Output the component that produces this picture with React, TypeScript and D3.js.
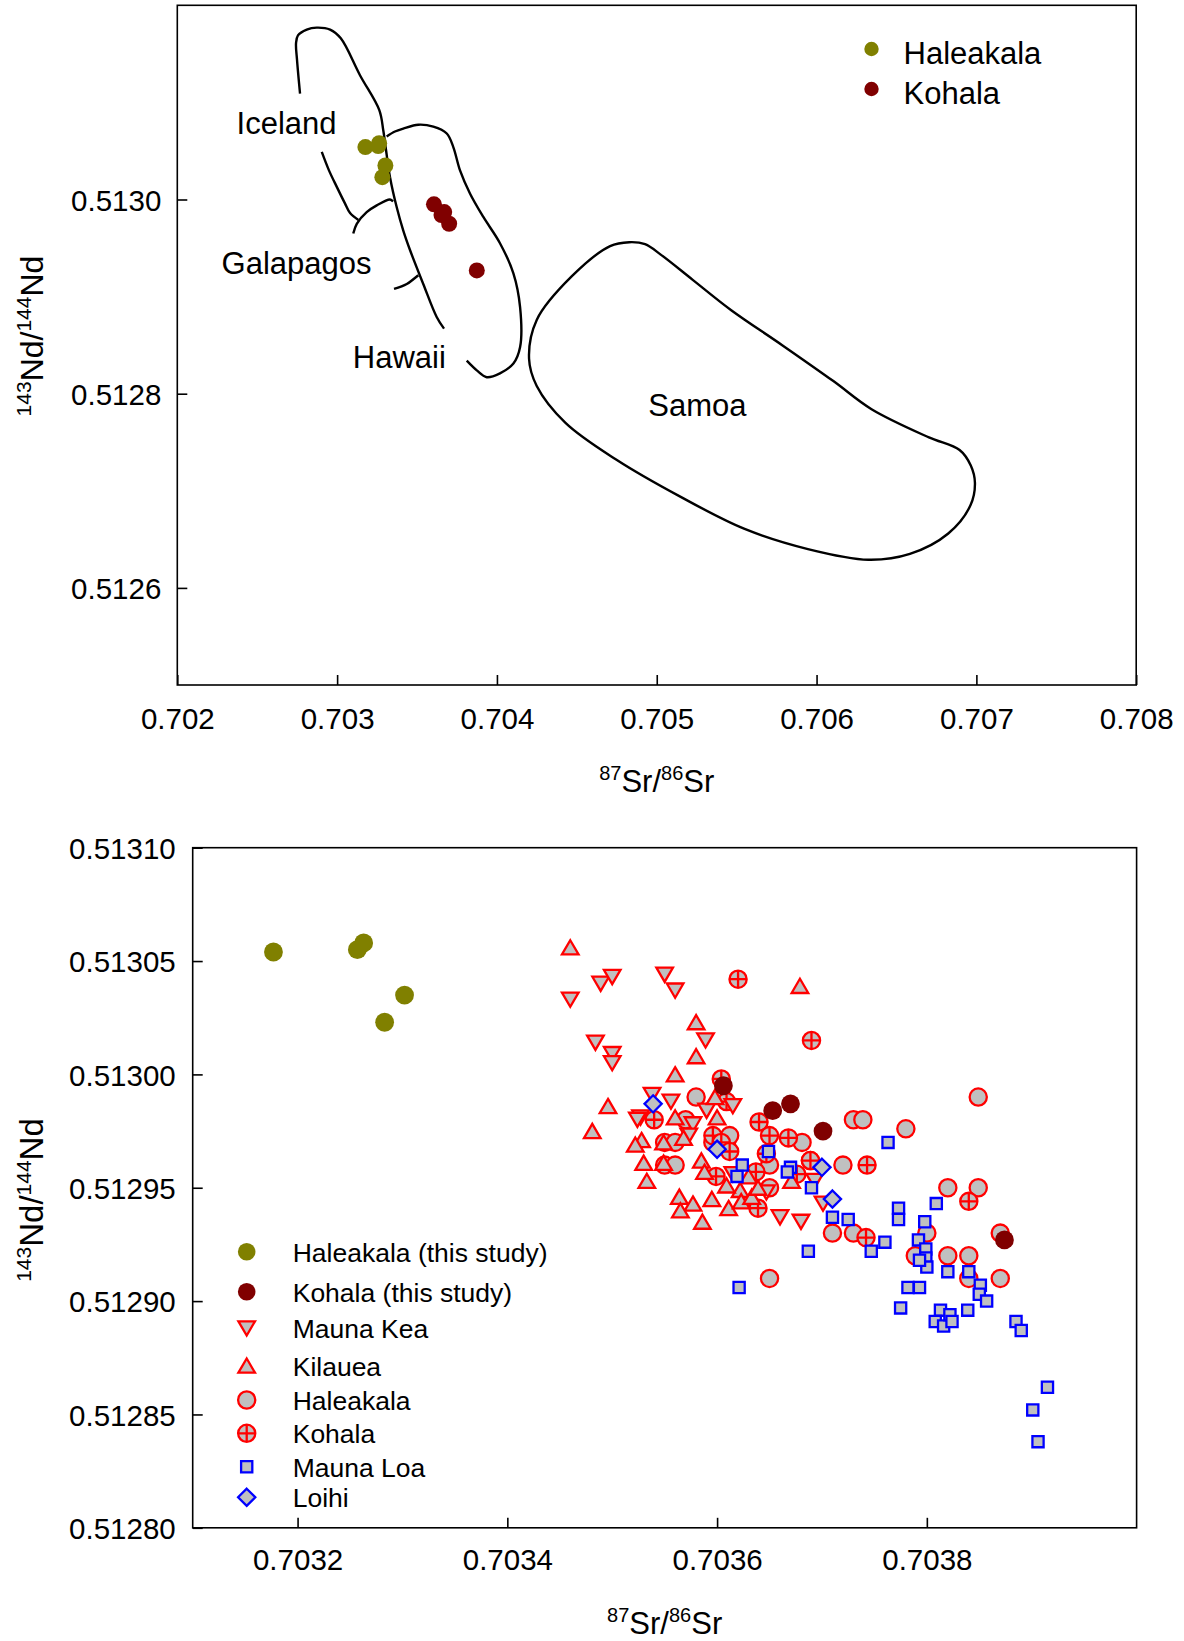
import React, { useEffect, useRef } from 'react'
import * as d3 from 'd3'

const FONT = '"Liberation Sans", Arial, Helvetica, sans-serif'
const RED = '#ff0000'
const BLUE = '#0000ff'
const GRAY = '#c0c0c0'
const OLIVE = '#808000'
const MAROON = '#800000'

// [87Sr/86Sr, 143Nd/144Nd]
// this study
const haleakalaNew = [[0.703177, 0.513054], [0.703263, 0.513058], [0.703257, 0.513055], [0.703302, 0.513035], [0.703283, 0.513023]]
const kohalaNew = [[0.703606, 0.512995], [0.703653, 0.512984], [0.70367, 0.512987], [0.703701, 0.512975], [0.703874, 0.512927]]

// literature data
const maunaKea = [
  [0.70346, 0.513033], [0.703489, 0.51304], [0.7035, 0.513043], [0.70355, 0.513044], [0.70356, 0.513037],
  [0.703589, 0.513015], [0.703484, 0.513014], [0.7035, 0.513009], [0.7035, 0.513005], [0.703538, 0.512991],
  [0.703556, 0.512988], [0.703527, 0.512981], [0.703524, 0.51298], [0.703577, 0.512978], [0.703615, 0.512986],
  [0.70359, 0.512984], [0.703573, 0.512973], [0.703615, 0.512956], [0.703647, 0.512948], [0.70366, 0.512937],
  [0.70368, 0.512935], [0.703693, 0.512953], [0.703701, 0.512943]
]
const kilauea = [
  [0.70346, 0.513056], [0.703679, 0.513039], [0.70358, 0.513023], [0.70358, 0.513008], [0.70356, 0.513],
  [0.703598, 0.51299], [0.703496, 0.512986], [0.70356, 0.512981], [0.703481, 0.512975], [0.703528, 0.512971],
  [0.703522, 0.512969], [0.703549, 0.51297], [0.703568, 0.512972], [0.7036, 0.512981], [0.70353, 0.512961],
  [0.703549, 0.512961], [0.703585, 0.512962], [0.703533, 0.512953], [0.703588, 0.512957], [0.703564, 0.512946],
  [0.703577, 0.512943], [0.703595, 0.512945], [0.703565, 0.51294], [0.703611, 0.512941], [0.703586, 0.512935],
  [0.703622, 0.512949], [0.703623, 0.512944], [0.703609, 0.512951], [0.703633, 0.512946], [0.70363, 0.512955],
  [0.703671, 0.512953], [0.703639, 0.51295]
]
const haleakala = [
  [0.70358, 0.51299], [0.70355, 0.51297], [0.70356, 0.51297], [0.70355, 0.51296], [0.70356, 0.51296],
  [0.703596, 0.51297], [0.703609, 0.51297], [0.70365, 0.51296], [0.70365, 0.51295], [0.703681, 0.51297],
  [0.70373, 0.51298], [0.703739, 0.51298], [0.70378, 0.512976], [0.703849, 0.51299], [0.70372, 0.51296],
  [0.70382, 0.51295], [0.703849, 0.51295], [0.70371, 0.51293], [0.70373, 0.51293], [0.7038, 0.51293],
  [0.70387, 0.51293], [0.703789, 0.51292], [0.70382, 0.51292], [0.70384, 0.51292], [0.70384, 0.51291],
  [0.70387, 0.51291], [0.70365, 0.51291], [0.703612, 0.512973], [0.703689, 0.512962], [0.70357, 0.51298]
]
const kohala = [
  [0.70362, 0.513042], [0.70369, 0.513015], [0.703604, 0.512998], [0.703609, 0.512988], [0.70354, 0.51298],
  [0.70364, 0.512979], [0.70365, 0.512973], [0.703668, 0.512972], [0.703596, 0.512973], [0.703604, 0.51297],
  [0.703612, 0.512966], [0.703647, 0.512965], [0.703689, 0.512962], [0.703743, 0.51296], [0.703676, 0.512956],
  [0.703637, 0.512957], [0.703599, 0.512955], [0.703639, 0.512941], [0.70384, 0.512944], [0.703742, 0.512928]
]
const maunaLoa = [
  [0.703763, 0.51297], [0.703624, 0.51296], [0.703649, 0.512966], [0.703619, 0.512955], [0.70367, 0.512959],
  [0.703667, 0.512957], [0.70369, 0.51295], [0.70371, 0.512937], [0.703725, 0.512936], [0.703773, 0.512941],
  [0.703773, 0.512936], [0.703809, 0.512943], [0.703798, 0.512935], [0.703792, 0.512927], [0.70376, 0.512926],
  [0.703687, 0.512922], [0.703747, 0.512922], [0.703799, 0.512923], [0.703799, 0.512919], [0.7038, 0.512915],
  [0.703793, 0.512918], [0.70382, 0.512913], [0.70384, 0.512913], [0.703851, 0.512907], [0.70385, 0.512903],
  [0.703857, 0.5129], [0.703782, 0.512906], [0.703793, 0.512906], [0.703775, 0.512897], [0.703813, 0.512896],
  [0.703808, 0.512891], [0.703816, 0.512889], [0.703822, 0.512894], [0.703824, 0.512891], [0.703839, 0.512896],
  [0.703885, 0.512891], [0.70389, 0.512887], [0.703915, 0.512862], [0.703901, 0.512852], [0.703906, 0.512838],
  [0.703621, 0.512906]
]
const loihi = [[0.703539, 0.512987], [0.7036, 0.512967], [0.7037, 0.512959], [0.70371, 0.512945]]

// OIB field outlines for the upper panel
const icelandHawaiiLine = [
  [0.702768, 0.513109], [0.702749, 0.513144], [0.702743, 0.513161], [0.702755, 0.513169], [0.70281, 0.513175],
  [0.702872, 0.513177], [0.702956, 0.513175], [0.703023, 0.513166], [0.703143, 0.513128], [0.703264, 0.513092],
  [0.703289, 0.513071], [0.703306, 0.513051], [0.703331, 0.513023], [0.703373, 0.512992], [0.703414, 0.512968],
  [0.703456, 0.512948], [0.703539, 0.512913], [0.703623, 0.512879], [0.703669, 0.512867]
]
const icelandLower = [[0.702904, 0.513049], [0.702949, 0.51303], [0.702998, 0.513013], [0.703049, 0.512996], [0.703081, 0.512986], [0.703133, 0.512979]]
const galapagosUpper = [[0.703101, 0.512965], [0.703123, 0.512975], [0.703185, 0.512987], [0.703248, 0.512994], [0.703331, 0.513], [0.70335, 0.512998]]
const galapagosLower = [[0.703356, 0.512908], [0.703436, 0.512913], [0.703508, 0.512922]]
const hawaii = [
  [0.70331, 0.513065], [0.703362, 0.51307], [0.703414, 0.513073], [0.703508, 0.513077], [0.703602, 0.513075],
  [0.703686, 0.513068], [0.703727, 0.513054], [0.703769, 0.51303], [0.703832, 0.513006], [0.703915, 0.512982],
  [0.704019, 0.512955], [0.704103, 0.512924], [0.704145, 0.512889], [0.704145, 0.512848], [0.704103, 0.512831],
  [0.704019, 0.512821], [0.703936, 0.512817], [0.703874, 0.512824], [0.703811, 0.512834]
]
const samoa = [
  [0.704828, 0.512956], [0.704708, 0.512952], [0.704469, 0.512921], [0.704249, 0.512876], [0.704201, 0.512836],
  [0.704249, 0.512808], [0.704429, 0.51277], [0.704748, 0.512732], [0.705147, 0.512694], [0.705546, 0.512661],
  [0.705946, 0.51264], [0.706324, 0.512629], [0.706584, 0.512635], [0.706824, 0.512656], [0.706963, 0.512685],
  [0.706991, 0.512708], [0.706965, 0.512726], [0.706895, 0.512742], [0.706703, 0.512755], [0.706344, 0.512784],
  [0.706105, 0.512813], [0.705785, 0.51285], [0.705466, 0.512886], [0.705227, 0.512917], [0.705027, 0.512943],
  [0.704927, 0.512954]
]

const topXTicks = [0.702, 0.703, 0.704, 0.705, 0.706, 0.707, 0.708]
const topYTicks = [0.5126, 0.5128, 0.513]
const botXTicks = [0.7032, 0.7034, 0.7036, 0.7038]
const botYTicks = [0.5128, 0.51285, 0.5129, 0.51295, 0.513, 0.51305, 0.5131]

const fieldNames = ['Iceland', 'Galapagos', 'Hawaii', 'Samoa']
const topLegend = ['Haleakala', 'Kohala']
const botLegend = ['Haleakala (this study)', 'Kohala (this study)', 'Mauna Kea', 'Kilauea', 'Haleakala', 'Kohala', 'Mauna Loa', 'Loihi']
const botKinds = ['olive', 'maroon', 'down', 'up', 'circle', 'cross', 'square', 'diamond']

const SW = 2.3
const CR = 8.6
const SHAPES: any = {
  down: 'M-8.3,-7L8.3,-7L0,7.2Z',
  up: 'M0,-7.2L8.3,7L-8.3,7Z',
  square: 'M-5.6,-5.6H5.6V5.6H-5.6Z',
  diamond: 'M0,-8.6L8.6,0L0,8.6L-8.6,0Z'
}

function addShape(sel: any, kind: string, r = 9) {
  if (kind === 'olive' || kind === 'maroon') {
    sel.append('circle').attr('r', r).attr('fill', kind === 'olive' ? OLIVE : MAROON)
  } else if (kind === 'circle' || kind === 'cross') {
    sel.append('circle').attr('r', CR).attr('fill', GRAY).attr('stroke', RED).attr('stroke-width', SW)
    if (kind === 'cross') {
      sel.append('path').attr('d', `M${-CR},0H${CR}M0,${-CR}V${CR}`).attr('stroke', RED).attr('stroke-width', SW)
    }
  } else {
    sel.append('path')
      .attr('d', SHAPES[kind])
      .attr('fill', GRAY)
      .attr('stroke', kind === 'square' || kind === 'diamond' ? BLUE : RED)
      .attr('stroke-width', SW)
  }
}

function drawMarks(g: any, pts: number[][], kind: string, x: any, y: any, r = 9) {
  const sel = g.append('g').selectAll('g')
    .data(pts)
    .enter()
    .append('g')
    .attr('transform', (d: number[]) => 'translate(' + x(d[0]) + ',' + y(d[1]) + ')')
  addShape(sel, kind, r)
}

function drawAxes(g: any, x: any, y: any, box: any, xt: number[], yt: number[], xf: string, yf: string, xpad: number, ypad: number) {
  const xa = g.append('g')
    .attr('transform', 'translate(0,' + box.bottom + ')')
    .call(d3.axisBottom(x).tickValues(xt).tickFormat(d3.format(xf)).tickSizeInner(-10).tickSizeOuter(0).tickPadding(xpad))
  const ya = g.append('g')
    .attr('transform', 'translate(' + box.left + ',0)')
    .call(d3.axisLeft(y).tickValues(yt).tickFormat(d3.format(yf)).tickSizeInner(-10).tickSizeOuter(0).tickPadding(ypad))
  ;[xa, ya].forEach((a: any) => {
    a.select('.domain').remove()
    a.attr('font-size', 29.5).attr('font-family', FONT)
    a.selectAll('line').attr('stroke', '#000').attr('stroke-width', 1.6)
    a.selectAll('text').attr('fill', '#000')
  })
  ya.selectAll('text').attr('dy', '0.36em')
  g.append('rect')
    .attr('x', box.left).attr('y', box.top)
    .attr('width', box.right - box.left).attr('height', box.bottom - box.top)
    .attr('fill', 'none').attr('stroke', '#000').attr('stroke-width', 1.6)
}

function title(g: any, x: number, y: number, parts: [string, boolean][], rotate: boolean, size = 31) {
  const t = g.append('text')
    .attr('transform', 'translate(' + x + ',' + y + ')' + (rotate ? ' rotate(-90)' : ''))
    .attr('text-anchor', 'middle')
    .attr('font-family', FONT)
    .attr('fill', '#000')
  let prev = false
  const sup = Math.round(size * 0.65)
  parts.forEach(([s, isSup]) => {
    t.append('tspan')
      .attr('font-size', isSup ? sup : size)
      .attr('dy', isSup === prev ? 0 : (isSup ? -12 : 12))
      .text(s)
    prev = isSup
  })
}

export default function App() {
  const ref = useRef<SVGSVGElement>(null)

  useEffect(() => {
    const svg = d3.select(ref.current)
    svg.selectAll('*').remove()

    const srTitle: [string, boolean][] = [['87', true], ['Sr/', false], ['86', true], ['Sr', false]]
    const ndTitle: [string, boolean][] = [['143', true], ['Nd/', false], ['144', true], ['Nd', false]]

    // ---------- upper panel ----------
    const top = { left: 177.3, right: 1136.2, top: 5.3, bottom: 685 }
    const tx = d3.scaleLinear().domain([0.702, 0.708]).range([top.left, top.right])
    const ty = d3.scaleLinear().domain([0.5125, 0.5132]).range([top.bottom, top.top])
    const g1 = svg.append('g')

    const open = d3.line<number[]>().x(d => tx(d[0])).y(d => ty(d[1])).curve(d3.curveCatmullRom.alpha(0.5))
    const closed = d3.line<number[]>().x(d => tx(d[0])).y(d => ty(d[1])).curve(d3.curveCatmullRomClosed.alpha(0.5))
    ;[icelandHawaiiLine, icelandLower, galapagosUpper, galapagosLower, hawaii].forEach(p => {
      g1.append('path').attr('d', open(p)).attr('fill', 'none').attr('stroke', '#000').attr('stroke-width', 2.4)
    })
    g1.append('path').attr('d', closed(samoa)).attr('fill', 'none').attr('stroke', '#000').attr('stroke-width', 2.4)

    // field labels
    const labelPos = [[0.702371, 0.513067], [0.702277, 0.512923], [0.703098, 0.512826], [0.704947, 0.512777]]
    g1.selectAll('.field')
      .data(fieldNames)
      .enter()
      .append('text')
      .attr('class', 'field')
      .attr('x', (d, i) => tx(labelPos[i][0]))
      .attr('y', (d, i) => ty(labelPos[i][1]))
      .attr('font-size', 31)
      .attr('font-family', FONT)
      .text(d => d)

    drawMarks(g1, haleakalaNew, 'olive', tx, ty, 8)
    drawMarks(g1, kohalaNew, 'maroon', tx, ty, 8)

    drawAxes(g1, tx, ty, top, topXTicks, topYTicks, '.3f', '.4f', 23, 16)

    // legend
    const tl = g1.selectAll('.tleg').data(topLegend).enter().append('g')
      .attr('class', 'tleg')
      .attr('transform', (d, i) => 'translate(871.5,' + (49 + i * 40) + ')')
    tl.append('circle').attr('r', 7.2).attr('fill', (d, i) => (i === 0 ? OLIVE : MAROON))
    tl.append('text').attr('x', 32).attr('y', 15).attr('font-size', 31).attr('font-family', FONT).text(d => d)

    title(g1, (top.left + top.right) / 2, 792, srTitle, false)
    title(g1, 43, 336, ndTitle, true, 32)

    // ---------- lower panel ----------
    const bot = { left: 192.7, right: 1136.6, top: 847.7, bottom: 1527.8 }
    const bx = d3.scaleLinear().domain([0.7031, 0.704]).range([bot.left, bot.right])
    const by = d3.scaleLinear().domain([0.5128, 0.5131]).range([bot.bottom, bot.top])
    const g2 = svg.append('g')

    drawMarks(g2, haleakala, 'circle', bx, by)
    drawMarks(g2, kohala, 'cross', bx, by)
    drawMarks(g2, maunaKea, 'down', bx, by)
    drawMarks(g2, kilauea, 'up', bx, by)
    drawMarks(g2, maunaLoa, 'square', bx, by)
    drawMarks(g2, loihi, 'diamond', bx, by)
    drawMarks(g2, haleakalaNew, 'olive', bx, by, 9.4)
    drawMarks(g2, kohalaNew, 'maroon', bx, by, 9.4)

    drawAxes(g2, bx, by, bot, botXTicks, botYTicks, '.4f', '.5f', 21, 17)

    const rows = [1251.7, 1291.7, 1328.3, 1365.7, 1400, 1433.3, 1466.7, 1497.3]
    const bl = g2.selectAll('.bleg').data(botLegend).enter().append('g')
      .attr('class', 'bleg')
      .attr('transform', (d, i) => 'translate(246.7,' + rows[i] + ')')
    bl.each(function (d, i) {
      addShape(d3.select(this), botKinds[i], 8.8)
    })
    bl.append('text').attr('x', 46).attr('y', 10).attr('font-size', 26.5).attr('font-family', FONT).text(d => d)

    title(g2, (bot.left + bot.right) / 2, 1634, srTitle, false)
    title(g2, 43, 1200, ndTitle, true, 33)
  }, [])

  return (
    <svg
      ref={ref}
      width={1184}
      height={1641}
      style={{ position: 'absolute', left: 0, top: 0, background: '#fff' }}
    />
  )
}
